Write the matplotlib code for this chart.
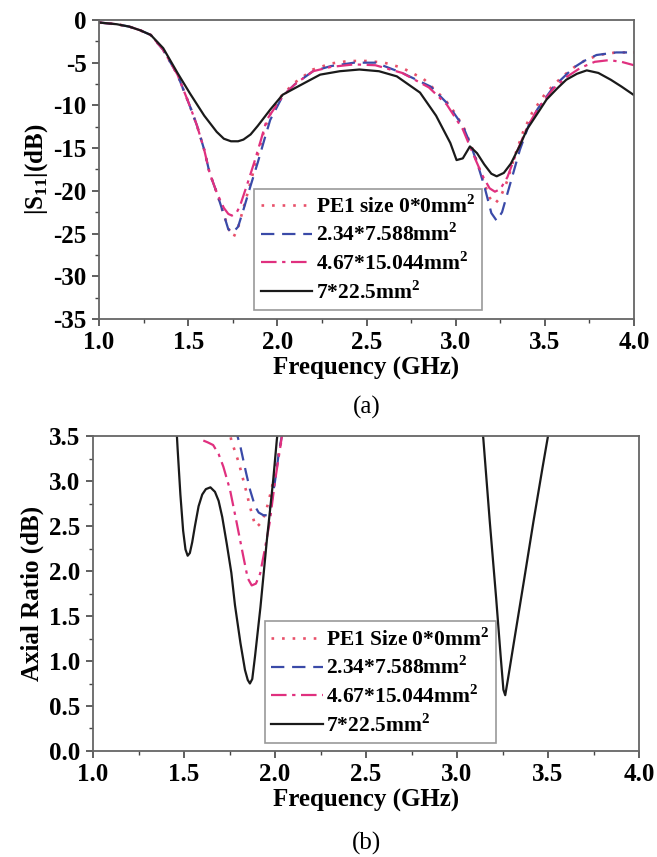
import matplotlib
matplotlib.use("Agg")
import matplotlib.pyplot as plt
from matplotlib.ticker import MultipleLocator

plt.rcParams['font.family'] = ['Liberation Serif', 'DejaVu Serif']
plt.rcParams['mathtext.fontset'] = 'custom'
plt.rcParams['mathtext.rm'] = 'Liberation Serif:bold'
plt.rcParams['mathtext.bf'] = 'Liberation Serif:bold'

# ---------------- (a) |S11| data ----------------
f_black_a = [1.0, 1.1, 1.17, 1.23, 1.29, 1.36, 1.44, 1.51, 1.59, 1.66, 1.7, 1.74, 1.78, 1.81, 1.85, 1.89, 1.96, 2.03, 2.15, 2.24, 2.35, 2.46, 2.57, 2.67, 2.8, 2.89, 2.97, 3.005, 3.04, 3.08, 3.12, 3.16, 3.2, 3.23, 3.27, 3.31, 3.36, 3.4, 3.46, 3.51, 3.57, 3.62, 3.68, 3.735, 3.8, 3.87, 3.93, 4.0]
s_black_a = [-0.3, -0.5, -0.78, -1.2, -1.75, -3.3, -6.2, -8.6, -11.2, -13.1, -13.9, -14.2, -14.2, -14.0, -13.4, -12.4, -10.5, -8.75, -7.4, -6.4, -6.0, -5.8, -6.0, -6.6, -8.5, -11.2, -14.4, -16.4, -16.2, -14.8, -15.6, -16.9, -18.0, -18.3, -17.9, -16.8, -14.7, -12.8, -10.9, -9.3, -8.0, -7.0, -6.3, -5.9, -6.2, -7.0, -7.8, -8.8]

f_red_a = [1.0, 1.1, 1.17, 1.23, 1.29, 1.36, 1.44, 1.51, 1.55, 1.59, 1.62, 1.66, 1.7, 1.73, 1.755, 1.78, 1.81, 1.85, 1.89, 1.93, 1.97, 2.03, 2.1, 2.2, 2.3, 2.4, 2.5, 2.6, 2.7, 2.82, 2.9, 2.95, 3.0, 3.05, 3.1, 3.15, 3.19, 3.22, 3.25, 3.29, 3.33, 3.38, 3.43, 3.5, 3.55, 3.6, 3.66, 3.72, 3.8, 3.9, 4.0]
s_red_a = [-0.3, -0.5, -0.78, -1.2, -1.75, -3.5, -6.4, -10.1, -12.4, -15.2, -17.9, -20.2, -22.8, -24.6, -25.4, -24.3, -22.0, -19.0, -15.8, -12.6, -10.5, -8.7, -7.3, -5.8, -5.1, -4.8, -4.8, -5.0, -5.6, -6.9, -8.5, -9.6, -11.0, -12.8, -15.4, -18.5, -20.8, -21.5, -20.8, -18.8, -16.0, -13.0, -10.8, -8.7, -7.6, -6.6, -5.6, -4.8, -4.1, -3.8, -3.8]

f_blue_a = [1.0, 1.1, 1.17, 1.23, 1.29, 1.36, 1.44, 1.51, 1.55, 1.59, 1.62, 1.66, 1.7, 1.725, 1.75, 1.78, 1.81, 1.85, 1.89, 1.93, 1.96, 2.03, 2.1, 2.2, 2.3, 2.43, 2.55, 2.7, 2.86, 2.95, 3.04, 3.08, 3.12, 3.16, 3.2, 3.23, 3.26, 3.3, 3.36, 3.41, 3.46, 3.55, 3.6, 3.66, 3.72, 3.79, 3.9, 4.0]
s_blue_a = [-0.3, -0.5, -0.78, -1.2, -1.75, -3.5, -6.4, -10.1, -12.4, -15.2, -17.9, -20.2, -22.8, -24.5, -24.9, -24.2, -22.2, -19.4, -16.7, -13.8, -11.7, -8.9, -7.5, -6.0, -5.4, -5.0, -5.0, -6.2, -7.8, -9.7, -12.4, -14.4, -16.7, -19.4, -22.6, -23.5, -22.5, -19.6, -15.2, -12.3, -10.4, -7.8, -6.8, -5.6, -4.8, -4.1, -3.8, -3.8]

f_pink_a = [1.0, 1.1, 1.17, 1.23, 1.29, 1.36, 1.44, 1.51, 1.55, 1.59, 1.62, 1.66, 1.7, 1.725, 1.745, 1.77, 1.79, 1.83, 1.87, 1.91, 1.94, 2.03, 2.1, 2.2, 2.3, 2.43, 2.55, 2.7, 2.85, 2.95, 3.04, 3.1, 3.15, 3.19, 3.22, 3.25, 3.29, 3.34, 3.4, 3.46, 3.55, 3.62, 3.7, 3.78, 3.86, 3.93, 4.0]
s_pink_a = [-0.3, -0.5, -0.78, -1.2, -1.75, -3.5, -6.4, -10.1, -12.4, -15.2, -17.9, -20.2, -22.0, -22.7, -22.9, -22.6, -21.8, -19.3, -16.7, -13.9, -11.7, -8.9, -7.5, -6.0, -5.5, -5.2, -5.3, -6.2, -7.9, -9.9, -12.8, -15.8, -18.2, -19.7, -20.1, -19.8, -18.4, -15.6, -12.6, -10.4, -8.0, -6.7, -5.6, -4.9, -4.7, -4.9, -5.3]

# ---------------- (b) Axial ratio data ----------------
f_black_b = [1.45, 1.465, 1.48, 1.495, 1.508, 1.52, 1.532, 1.545, 1.56, 1.58, 1.6, 1.62, 1.645, 1.67, 1.69, 1.71, 1.735, 1.76, 1.78, 1.81, 1.835, 1.85, 1.862, 1.875, 1.89, 1.92, 1.955, 1.99, 2.01, 2.03]
ar_black_b = [3.9, 3.35, 2.85, 2.45, 2.24, 2.17, 2.2, 2.32, 2.5, 2.72, 2.85, 2.91, 2.93, 2.88, 2.78, 2.6, 2.3, 1.98, 1.62, 1.2, 0.9, 0.79, 0.75, 0.8, 1.05, 1.6, 2.34, 3.01, 3.46, 3.8]
f_black_b2 = [3.13, 3.145, 3.18, 3.215, 3.24, 3.255, 3.265, 3.28, 3.32, 3.37, 3.42, 3.47, 3.5, 3.52]
ar_black_b2 = [3.8, 3.46, 2.55, 1.7, 1.05, 0.68, 0.62, 0.8, 1.3, 1.92, 2.55, 3.15, 3.5, 3.75]

f_red_b = [1.745, 1.76, 1.8, 1.84, 1.863, 1.885, 1.9, 1.93, 1.955, 1.98, 2.0, 2.02, 2.04, 2.05]
ar_red_b = [3.6, 3.45, 3.21, 2.9, 2.71, 2.55, 2.49, 2.55, 2.7, 2.9, 3.1, 3.3, 3.5, 3.6]

f_blue_b = [1.78, 1.81, 1.84, 1.863, 1.89, 1.91, 1.936, 1.96, 1.98, 2.0, 2.02, 2.037, 2.05]
ar_blue_b = [3.6, 3.38, 3.1, 2.9, 2.72, 2.65, 2.62, 2.62, 2.75, 3.0, 3.3, 3.5, 3.65]

f_pink_b = [1.606, 1.63, 1.66, 1.69, 1.716, 1.753, 1.79, 1.826, 1.85, 1.872, 1.895, 1.918, 1.94, 1.97, 2.0, 2.027, 2.045]
ar_pink_b = [3.45, 3.43, 3.4, 3.3, 3.16, 2.9, 2.53, 2.16, 1.92, 1.84, 1.86, 1.97, 2.2, 2.53, 3.0, 3.35, 3.6]

labels_a = ['PE1 size 0*0mm$^\\mathrm{2}$', '2.34*7.588mm$^\\mathrm{2}$',
            '4.67*15.044mm$^\\mathrm{2}$', '7*22.5mm$^\\mathrm{2}$']
labels_b = ['PE1 Size 0*0mm$^\\mathrm{2}$', '2.34*7.588mm$^\\mathrm{2}$',
            '4.67*15.044mm$^\\mathrm{2}$', '7*22.5mm$^\\mathrm{2}$']

c_red = '#e8506a'
c_blue = '#3a4aa8'
c_pink = '#e0307f'
c_black = '#1a1a1a'
lw = 1.6

fig = plt.figure(figsize=(6.57, 8.57), dpi=100)
ax1 = fig.add_axes([0.1507, 0.6278, 0.8143, 0.3489])
ax2 = fig.add_axes([0.1416, 0.1237, 0.8310, 0.3675])

ax1.plot(f_red_a, s_red_a, color=c_red, ls=(0, (1, 3)), lw=lw + 0.3, label=labels_a[0])
ax1.plot(f_blue_a, s_blue_a, color=c_blue, ls=(0, (6, 3.5)), lw=lw, label=labels_a[1])
ax1.plot(f_pink_a, s_pink_a, color=c_pink, ls=(0, (7, 2.5, 1.5, 2.5)), lw=lw, label=labels_a[2])
ax1.plot(f_black_a, s_black_a, color=c_black, ls='-', lw=lw, label=labels_a[3])

ax2.plot(f_red_b, ar_red_b, color=c_red, ls=(0, (1, 3)), lw=lw + 0.3, label=labels_b[0])
ax2.plot(f_blue_b, ar_blue_b, color=c_blue, ls=(0, (6, 3.5)), lw=lw, label=labels_b[1])
ax2.plot(f_pink_b, ar_pink_b, color=c_pink, ls=(0, (7, 2.5, 1.5, 2.5)), lw=lw, label=labels_b[2])
ax2.plot(f_black_b, ar_black_b, color=c_black, ls='-', lw=lw, label=labels_b[3])
ax2.plot(f_black_b2, ar_black_b2, color=c_black, ls='-', lw=lw)

for ax in (ax1, ax2):
    ax.set_xlim(1.0, 4.0)
    ax.xaxis.set_major_locator(MultipleLocator(0.5))
    ax.xaxis.set_minor_locator(MultipleLocator(0.25))
    ax.tick_params(which='both', direction='out', top=False, right=False, color='#444444')
    ax.tick_params(which='major', length=5, width=1.2, labelsize=18, pad=4)
    ax.tick_params(which='minor', length=3, width=1.0)
    for sp in ax.spines.values():
        sp.set_color('#666666')
        sp.set_linewidth(1.3)
    ax.set_xlabel('Frequency (GHz)', fontsize=18, fontweight='bold', labelpad=2)

ax1.set_ylim(-35, 0)
ax1.yaxis.set_minor_locator(MultipleLocator(2.5))
ax1.set_xticks([1.0, 1.5, 2.0, 2.5, 3.0, 3.5, 4.0])
ax1.set_xticklabels(['1.0', '1.5', '2.0', '2.5', '3.0', '3.5', '4.0'], fontweight='bold')
ax1.set_yticks([0, -5, -10, -15, -20, -25, -30, -35])
ax1.set_yticklabels(['0', '-5', '-10', '-15', '-20', '-25', '-30', '-35'], fontweight='bold')
ax1.set_ylabel('|S$_\\mathrm{11}$|(dB)', fontsize=18, fontweight='bold', labelpad=2)

ax2.set_ylim(0, 3.5)
ax2.yaxis.set_minor_locator(MultipleLocator(0.25))
ax2.set_xticks([1.0, 1.5, 2.0, 2.5, 3.0, 3.5, 4.0])
ax2.set_xticklabels(['1.0', '1.5', '2.0', '2.5', '3.0', '3.5', '4.0'], fontweight='bold')
ax2.set_yticks([0.0, 0.5, 1.0, 1.5, 2.0, 2.5, 3.0, 3.5])
ax2.set_yticklabels(['0.0', '0.5', '1.0', '1.5', '2.0', '2.5', '3.0', '3.5'], fontweight='bold')
ax2.set_ylabel('Axial Ratio (dB)', fontsize=18, fontweight='bold', labelpad=4)

leg_kw = dict(fancybox=False, edgecolor='#999999', framealpha=1, handlelength=2.4,
              handletextpad=0.15, borderpad=0.3, labelspacing=0.28, borderaxespad=0,
              prop={'family': 'Liberation Serif', 'weight': 'bold', 'size': 15.5})
l1 = ax1.legend(loc='lower left', bbox_to_anchor=(0.29, 0.03), **leg_kw)
l2 = ax2.legend(loc='lower left', bbox_to_anchor=(0.315, 0.026), **leg_kw)
for l in (l1, l2):
    l.get_frame().set_linewidth(1.2)

fig.text(0.558, 0.524, '(a)', ha='center', va='center', fontsize=18)
fig.text(0.558, 0.016, '(b)', ha='center', va='center', fontsize=18)

fig.savefig('out.png', dpi=100, facecolor='white')
